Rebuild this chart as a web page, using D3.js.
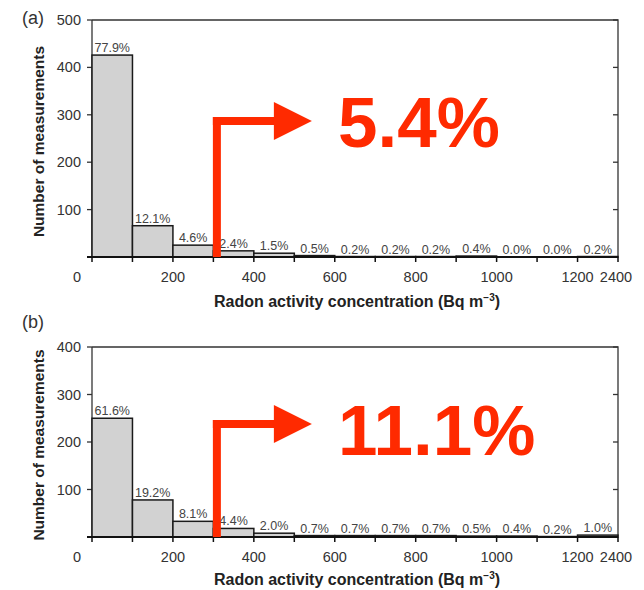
<!DOCTYPE html>
<html><head><meta charset="utf-8">
<script src="https://cdn.jsdelivr.net/npm/d3@7"></script>
<style>body{margin:0;background:#fff;} text{font-family:"Liberation Sans",Arial,sans-serif;}</style>
</head><body>
<svg id="c" width="644" height="590"></svg>
<script>
// bins (Bq m^-3): 0-100,...,1100-1200, 1200-2400
const binEdgeLabels = ["0","100","200","300","400","500","600","700","800","900","1000","1100","1200","2400"];
const xTickLabels = ["0","200","400","600","800","1000","1200","2400"];
const countsA = [426, 66, 25, 13, 8, 3, 1, 1, 1, 2, 0, 0, 1];
const pctA = ["77.9%","12.1%","4.6%","2.4%","1.5%","0.5%","0.2%","0.2%","0.2%","0.4%","0.0%","0.0%","0.2%"];
const countsB = [250, 78, 33, 18, 8, 3, 3, 3, 3, 2, 2, 1, 4];
const pctB = ["61.6%","19.2%","8.1%","4.4%","2.0%","0.7%","0.7%","0.7%","0.7%","0.5%","0.4%","0.2%","1.0%"];
const yTicksA = [100, 200, 300, 400, 500];
const yTicksB = [100, 200, 300, 400];
const highlightA = "5.4%";
const highlightB = "11.1%";

const svg = d3.select("#c");
const RED = "#ff2a00";

function panel(o) {
  const g = svg.append("g");
  const x = d3.scaleLinear().domain([0, 13]).range([92, 618]);
  const y = d3.scaleLinear().domain([0, o.ymax]).range([o.bottom, o.top]);

  g.append("path").attr("d", `M${x(0)},${o.top}H${x(13)}V${o.bottom}`)
    .attr("fill", "none").attr("stroke", "#333").attr("stroke-width", 1.3);
  g.append("line").attr("x1", x(0)).attr("x2", x(0)).attr("y1", o.top).attr("y2", o.bottom)
    .attr("stroke", "#333").attr("stroke-width", 1.3);
  o.yTicks.forEach(t => {
    g.append("line").attr("x1", x(0) - 5).attr("x2", x(0)).attr("y1", y(t)).attr("y2", y(t))
      .attr("stroke", "#333").attr("stroke-width", 1.3);
    g.append("line").attr("x1", x(13) - 5).attr("x2", x(13)).attr("y1", y(t)).attr("y2", y(t))
      .attr("stroke", "#333").attr("stroke-width", 1.3);
    g.append("text").attr("x", x(0) - 11).attr("y", y(t) + 5).attr("text-anchor", "end")
      .attr("font-size", 14.5).attr("fill", "#333").text(t);
  });

  o.counts.forEach((c, i) => {
    g.append("rect").attr("x", x(i)).attr("width", x(i + 1) - x(i))
      .attr("y", y(c)).attr("height", o.bottom - y(c))
      .attr("fill", "#d2d2d2").attr("stroke", "#1a1a1a").attr("stroke-width", 1.5);
    g.append("text").attr("x", (x(i) + x(i + 1)) / 2).attr("y", y(c) - 3)
      .attr("text-anchor", "middle").attr("font-size", 12.5).attr("fill", "#444")
      .text(o.pct[i]);
  });

  g.append("line").attr("x1", x(0) - 5).attr("x2", x(13)).attr("y1", o.bottom).attr("y2", o.bottom)
    .attr("stroke", "#111").attr("stroke-width", 2);
  binEdgeLabels.forEach((lab, i) => {
    g.append("line").attr("x1", x(i)).attr("x2", x(i)).attr("y1", o.bottom).attr("y2", o.bottom + 5)
      .attr("stroke", "#111").attr("stroke-width", 1.5);
    if (xTickLabels.includes(lab)) {
      let xx = x(i);
      if (lab === "0") xx = x(i) - 15;
      if (lab === "2400") xx = x(i) - 2;
      g.append("text").attr("x", xx).attr("y", o.bottom + 25).attr("text-anchor", "middle")
        .attr("font-size", 14.5).attr("fill", "#333").text(lab);
    }
  });

  const xt = g.append("text").attr("x", 357).attr("y", o.bottom + o.xtDy).attr("text-anchor", "middle")
    .attr("font-size", 16).attr("font-weight", "bold").attr("fill", "#222");
  xt.append("tspan").text("Radon activity concentration (Bq m");
  xt.append("tspan").attr("font-size", 10).attr("dy", -6).text("\u22123");
  xt.append("tspan").attr("dy", 6).text(")");
  g.append("text").attr("transform", `translate(44,${(o.top + o.bottom) / 2 + 3}) rotate(-90)`)
    .attr("text-anchor", "middle").attr("font-size", 15.5).attr("font-weight", "bold").attr("fill", "#222")
    .text("Number of measurements");
  g.append("text").attr("x", 22).attr("y", o.labelY).attr("font-size", 18).attr("fill", "#333").text(o.label);

  const vx = x(3) + 3.5;
  g.append("path").attr("d", `M${vx},${o.bottom}V${o.arrowY - 4}`)
    .attr("stroke", RED).attr("stroke-width", 8).attr("fill", "none");
  g.append("path").attr("d", `M${vx - 4},${o.arrowY}H${x(4) + 22}`)
    .attr("stroke", RED).attr("stroke-width", 8).attr("fill", "none");
  g.append("path").attr("d", `M${x(4) + 20},${o.arrowY - 19}L${x(4) + 58},${o.arrowY}L${x(4) + 20},${o.arrowY + 19}Z`)
    .attr("fill", RED);
  g.append("text").attr("x", 338).attr("y", o.arrowY + o.textDy).attr("font-size", 71)
    .attr("font-weight", "bold").attr("fill", RED).text(o.highlight);
}

panel({ top: 20, bottom: 257, ymax: 500, yTicks: yTicksA, counts: countsA, pct: pctA,
  label: "(a)", labelY: 24, xtDy: 50, arrowY: 121, textDy: 26, highlight: highlightA });
panel({ top: 347, bottom: 537, ymax: 400, yTicks: yTicksB, counts: countsB, pct: pctB,
  label: "(b)", labelY: 328, xtDy: 48, arrowY: 424, textDy: 31, highlight: highlightB });
</script>
</body></html>
